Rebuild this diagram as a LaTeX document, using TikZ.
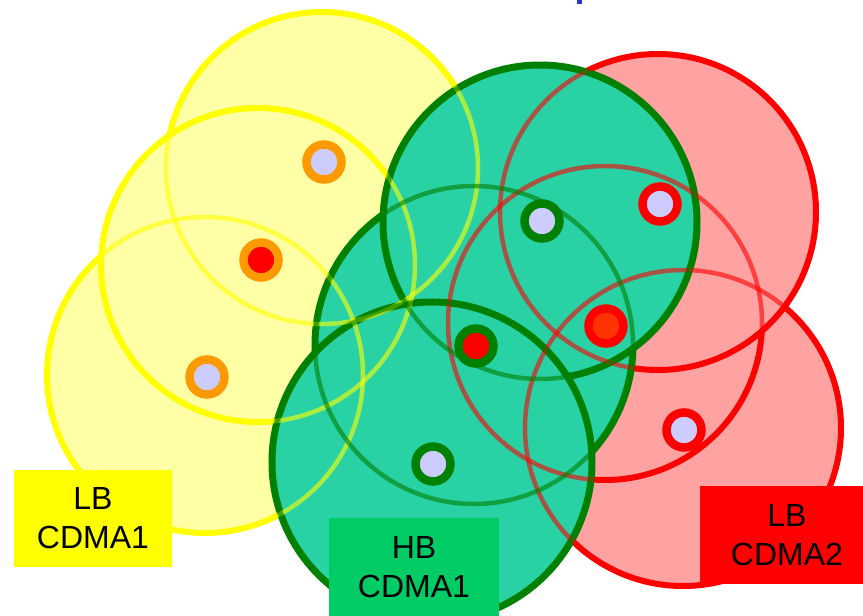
\documentclass[tikz,border=0pt]{standalone}
\usepackage{fontspec}
\setmainfont{Liberation Sans}
\usetikzlibrary{positioning}
\definecolor{lbyellow}{RGB}{255,255,0}
\definecolor{yfill}{RGB}{255,255,165}
\definecolor{hbgreen}{RGB}{0,128,0}
\definecolor{gfill}{RGB}{40,210,165}
\definecolor{lbred}{RGB}{255,0,0}
\definecolor{rfill}{RGB}{255,162,162}
\definecolor{ringorange}{RGB}{255,153,0}
\definecolor{lavender}{RGB}{204,204,255}
\definecolor{hotred}{RGB}{255,51,0}
\definecolor{boxgreen}{RGB}{0,204,102}
\definecolor{titleblue}{RGB}{51,51,204}
\tikzset{cell/.style={line width=6pt},
         hidden cell/.style={line width=4.5pt,draw opacity=0.6},
         mobile/.style={circle,line width=8.5pt,minimum size=35pt,inner sep=0pt},
         label box/.style={rectangle,inner sep=0pt,align=center,font=\fontsize{32}{39}\selectfont},
}
\begin{document}
\begin{tikzpicture}[x=1pt,y=-1pt]
\useasboundingbox (0,0) rectangle (863,616);
% cut-off title
\fill[titleblue] (577,0) rectangle (582,4);

% LB CDMA1 cells
\foreach \cx/\cy/\rad in {322/168/156, 205/375/158, 258/265/157}
    \filldraw[cell,draw=lbyellow,fill=yfill] (\cx,\cy) circle[radius=\rad pt];
% LB CDMA2 cells
\foreach \cx/\cy/\rad in {683/428/158, 605/323/157, 658/212/158}
    \filldraw[cell,draw=lbred,fill=rfill] (\cx,\cy) circle[radius=\rad pt];
% HB CDMA1 cells
\foreach \cx/\cy/\rad in {474/345/159, 540/222/157, 432/462/160}
    \filldraw[cell,line width=7pt,draw=hbgreen,fill=gfill] (\cx,\cy) circle[radius=\rad pt];

% borders seen through the cells on top
\foreach \cx/\cy/\rad/\col in {322/168/156/lbyellow, 205/375/158/lbyellow, 258/265/157/lbyellow,
        683/428/158/lbred, 605/323/157/lbred, 658/212/158/lbred,
        474/345/159/hbgreen, 540/222/157/hbgreen, 432/462/160/hbgreen}
    \draw[hidden cell,draw=\col] (\cx,\cy) circle[radius=\rad pt];

% mobiles
\foreach \name/\px/\py/\ring/\core in {y1/324/162/ringorange/lavender, y2/261/260/ringorange/lbred,
        y3/207/377/ringorange/lavender, g1/542/221/hbgreen/lavender, g2/476/346/hbgreen/lbred,
        g3/433/464/hbgreen/lavender, r1/660/204/lbred/lavender, r2/606/326/lbred/hotred,
        r3/684/430/lbred/lavender}
    \node[mobile,draw=\ring,fill=\core] (\name) at (\px,\py) {};

\node[label box,fill=lbyellow,minimum width=158pt,minimum height=97pt] (lb1) at (93,518) {LB\\CDMA1};
\node[label box,fill=boxgreen,minimum width=170pt,minimum height=98pt] (hb1) at (414,567) {HB\\CDMA1};
\node[label box,fill=lbred,minimum width=174pt,minimum height=98pt] (lb2) at (787,535) {LB\\CDMA2};
\end{tikzpicture}
\end{document}
